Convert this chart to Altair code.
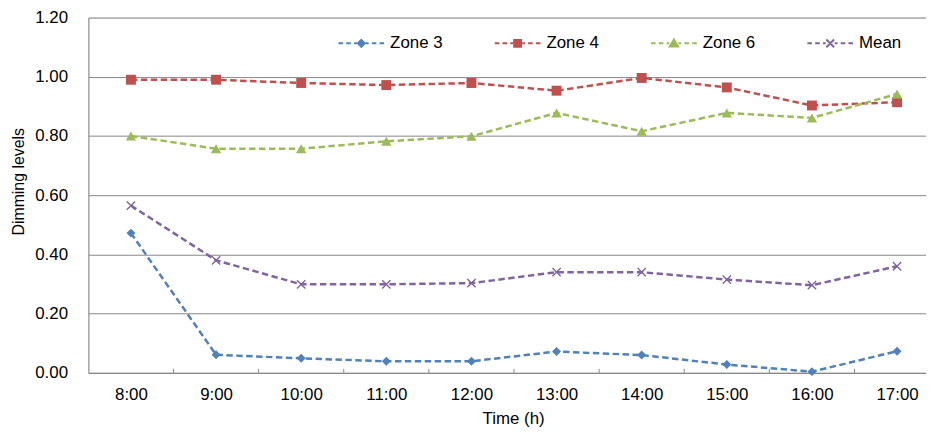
import altair as alt
import pandas as pd

# ---- data ----
times = ["8:00", "9:00", "10:00", "11:00", "12:00", "13:00", "14:00", "15:00", "16:00", "17:00"]
zone3 = [0.472, 0.061, 0.049, 0.039, 0.039, 0.072, 0.060, 0.028, 0.004, 0.073]
zone4 = [0.990, 0.990, 0.979, 0.972, 0.979, 0.953, 0.996, 0.964, 0.903, 0.914]
zone6 = [0.800, 0.757, 0.757, 0.782, 0.799, 0.878, 0.816, 0.878, 0.861, 0.942]
mean = [0.565, 0.380, 0.299, 0.299, 0.303, 0.340, 0.340, 0.315, 0.296, 0.360]

series_names = ["Zone 3", "Zone 4", "Zone 6", "Mean"]
series_values = [zone3, zone4, zone6, mean]
colors = ["#4F81BD", "#C0504D", "#9BBB59", "#8064A2"]
y_ticks = [0.0, 0.2, 0.4, 0.6, 0.8, 1.0, 1.2]

hours = [int(t.split(":")[0]) for t in times]
rows = []
for name, vals in zip(series_names, series_values):
    for t, h, v in zip(times, hours, vals):
        rows.append({"series": name, "time": t, "hour": h, "value": v})
df = pd.DataFrame(rows)
tick_df = pd.DataFrame({"boundary": [h + 0.5 for h in hours[:-1]]})

FONT = "Liberation Sans"
GRAY = "#868686"
PLOT_H = 358

x_scale = alt.Scale(domain=[7.5, 17.34], nice=False, zero=False)
y_scale = alt.Scale(domain=[0, 1.2], nice=False)

x_axis = alt.Axis(
    orient="bottom", values=hours, labelExpr="format(datum.value,'d') + ':00'",
    ticks=False, grid=False, domain=True, domainColor=GRAY, domainWidth=1,
    labelFont=FONT, labelFontSize=17, labelColor="#000000", labelPadding=27,
    labelBaseline="alphabetic", labelOverlap=False, labelFlush=False,
    title="Time (h)", titleFont=FONT, titleFontSize=17, titleFontWeight="normal",
    titleColor="#000000", titleX=428, titleY=51.5, titleAlign="center",
    titleBaseline="alphabetic",
)
y_axis = alt.Axis(
    orient="left", values=y_ticks, format=".2f", grid=True, gridColor=GRAY, gridWidth=1,
    ticks=False, domain=True, domainColor=GRAY, domainWidth=1,
    labelFont=FONT, labelFontSize=17, labelColor="#000000", labelPadding=21,
    title="Dimming levels", titleFont=FONT, titleFontSize=16, titleFontWeight="normal",
    titleColor="#000000", titleAngle=270, titleX=-65.8, titleY=165,
    titleAlign="center", titleBaseline="alphabetic",
)

X = alt.X("hour:Q", scale=x_scale, axis=x_axis)
Y = alt.Y("value:Q", scale=y_scale, axis=y_axis)

shapes = ["diamond", "square", "triangle-up", "M-1,-1L1,1M-1,1L1,-1"]
sizes = [81, 100, 110, 70]

layers = []
# inside tick marks at category boundaries on the x axis
layers.append(
    alt.Chart(tick_df).mark_rule(color=GRAY, strokeWidth=1).encode(
        x=alt.X("boundary:Q", scale=x_scale, axis=x_axis),
        y=alt.value(PLOT_H - 4), y2=alt.value(PLOT_H),
    )
)
for name, col, shp, sz in zip(series_names, colors, shapes, sizes):
    base = alt.Chart(df).transform_filter(alt.datum.series == name)
    layers.append(
        base.mark_line(color=col, strokeWidth=2.5, strokeDash=[6.5, 3.5]).encode(x=X, y=Y)
    )
    if shp.startswith("M"):
        pt = base.mark_point(shape=shp, size=sz, filled=False, stroke=col, strokeWidth=1.4, opacity=1)
    else:
        pt = base.mark_point(shape=shp, size=sz, filled=True, fill=col, strokeWidth=0, opacity=1)
    layers.append(pt.encode(x=X, y=Y))

# legend symbols: dashed line with the series marker
dash_l = "M-1,0H-0.8M-0.66,0H-0.46M-0.32,0H-0.2"
dash_r = "M0.2,0H0.32M0.46,0H0.66M0.8,0H1"
legend_paths = [
    dash_l + dash_r + "M0,-0.15L0.15,0L0,0.15L-0.15,0Z",
    dash_l + dash_r + "M-0.15,-0.15H0.15V0.15H-0.15Z",
    dash_l + dash_r + "M0,-0.17L0.18,0.14L-0.18,0.14Z",
    dash_l + dash_r + "M-0.17,-0.17L0.17,0.17M-0.17,0.17L0.17,-0.17",
]
leg = alt.Legend(
    orient="none", legendX=251, legendY=2, direction="horizontal", title=None,
    labelFont=FONT, labelFontSize=17, labelColor="#000000", symbolSize=2116,
    symbolStrokeWidth=2, labelOffset=5, columnPadding=48.5, padding=0, rowPadding=0,
)
legend_layer = (
    alt.Chart(df)
    .transform_filter("datum.value < -1")
    .mark_point(filled=True, opacity=1, strokeWidth=2)
    .encode(
        x=X, y=Y,
        fill=alt.Fill("series:N", scale=alt.Scale(domain=series_names, range=colors), legend=leg),
        stroke=alt.Stroke("series:N", scale=alt.Scale(domain=series_names, range=colors), legend=leg),
        shape=alt.Shape("series:N", scale=alt.Scale(domain=series_names, range=legend_paths), legend=leg),
    )
)
layers.append(legend_layer)

chart = (
    alt.layer(*layers)
    .properties(
        width=844, height=PLOT_H,
        autosize=alt.AutoSizeParams(type="none"),
        padding={"left": 81, "top": 8, "right": 0, "bottom": 60},
    )
    .configure_view(stroke="transparent")
    .configure(background="white")
)

chart.save("out.html", embed_options={"renderer": "svg", "actions": False})
